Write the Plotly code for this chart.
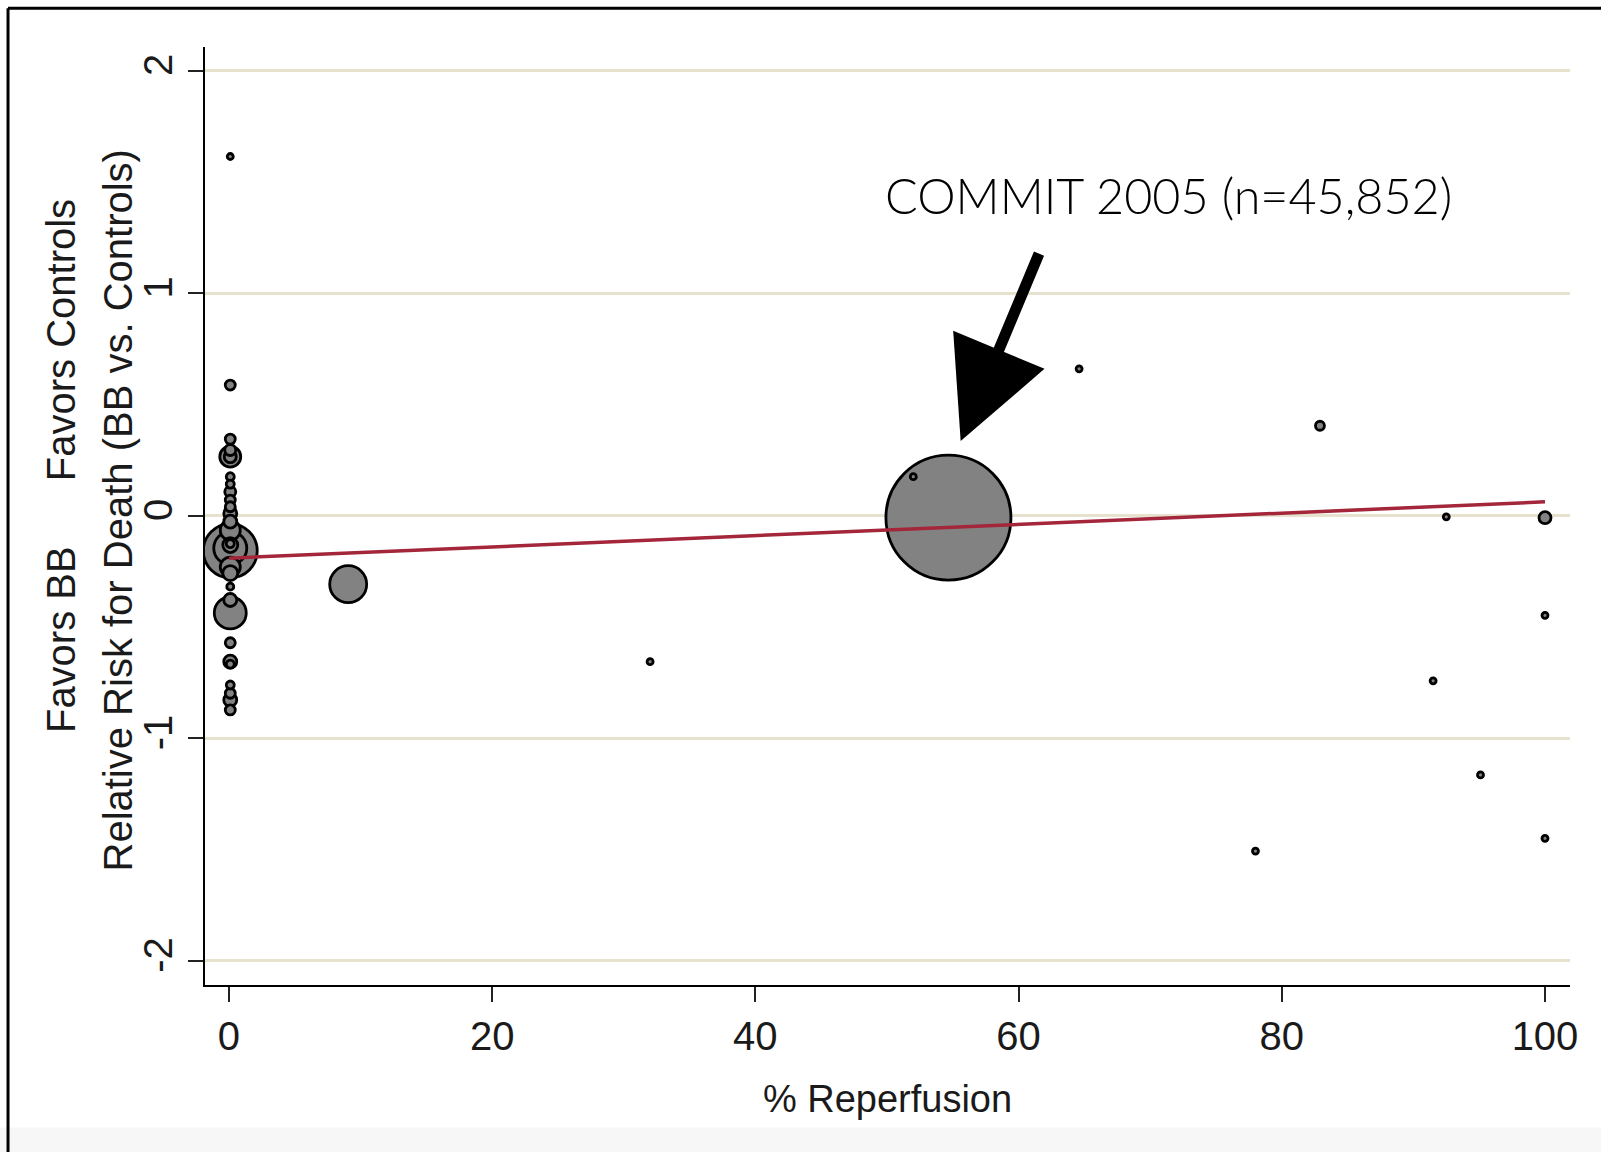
import plotly.graph_objects as go

# ---- data ----
reperfusion = [0.1, 9.06, 32.0, 54.67, 52.0, 64.6, 82.9, 92.5, 100, 100, 91.5, 95.1, 78.0, 100,
               0.1, 0.1, 0.1, 0.1, 0.1, 0.1, 0.1, 0.1, 0.1, 0.1, 0.1, 0.1, 0.1, 0.1, 0.1,
               0.1, 0.1, 0.1, 0.1, 0.1, 0.1, 0.1, 0.1, 0.1, 0.1, 0.1, 0.1, 0.1, 0.1]
log_rr = [1.615, -0.307, -0.655, -0.008, 0.176, 0.661, 0.405, -0.004, -0.008, -0.447, -0.741, -1.164, -1.506, -1.449,
          0.588, 0.345, 0.296, 0.266, 0.266, 0.176, 0.143, 0.108, 0.071, 0.041, 0.011, -0.026, -0.064, -0.157,
          -0.131, -0.125, -0.145, -0.23, -0.257, -0.318, -0.436, -0.378, -0.570, -0.655, -0.666, -0.760, -0.797,
          -0.827, -0.872]
weight_n = [47, 4011, 105, 45852, 105, 59, 237, 47, 422, 89, 89, 59, 59, 89,
            293, 293, 355, 1292, 422, 188, 188, 355, 293, 293, 495, 495, 1172, 8544,
            659, 188, 3191, 1172, 659, 144, 3000, 495, 293, 495, 188, 188, 293,
            495, 293]
fit_x = [0, 100]
fit_y = [-0.19, 0.063]
x_ticks = [0, 20, 40, 60, 80, 100]
y_ticks = [-2, -1, 0, 1, 2]
y_tick_text = ["-2", "-1", "0", "1", "2"]

# draw big bubbles first so small ones sit on top
order = sorted(range(len(weight_n)), key=lambda i: -weight_n[i])
xs = [reperfusion[i] for i in order]
ys = [log_rr[i] for i in order]
ws = [weight_n[i] for i in order]

fig = go.Figure()
fig.add_trace(go.Scatter(
    x=xs, y=ys, mode="markers",
    marker=dict(size=ws, sizemode="area", sizeref=2 * 45852 / 125**2, sizemin=3,
                color="#828282", opacity=1, line=dict(color="black", width=2.8)),
    hoverinfo="skip", showlegend=False))
fig.add_trace(go.Scatter(
    x=fit_x, y=fit_y, mode="lines",
    line=dict(color="#a3263a", width=3.5), showlegend=False, hoverinfo="skip"))

tickfont = dict(family="Liberation Sans, Arial, sans-serif", size=40, color="#1a1a1a")
fig.update_layout(
    width=1601, height=1152,
    margin=dict(l=205, r=31, t=47, b=167),
    paper_bgcolor="white", plot_bgcolor="white",
    xaxis=dict(range=[-1.82, 101.9], tickvals=x_ticks, showgrid=False, zeroline=False,
               showline=True, linecolor="black", linewidth=2, ticks="outside",
               ticklen=15, tickwidth=2, tickcolor="#222", tickfont=tickfont,
               title=dict(text="% Reperfusion", standoff=28,
                          font=dict(family="Liberation Sans, Arial, sans-serif", size=38, color="#1a1a1a"))),
    yaxis=dict(range=[-2.108, 2.107], tickvals=y_ticks, ticktext=y_tick_text, showgrid=True,
               gridcolor="#e6e2cd", gridwidth=3, zeroline=False, showline=True, linecolor="black",
               linewidth=2, ticks="outside", ticklen=15, tickwidth=2, tickcolor="#222",
               tickangle=-90, tickfont=tickfont),
)

ytitle_font = dict(family="Liberation Sans, Arial, sans-serif", size=40, color="#1a1a1a")
fig.add_annotation(text="Relative Risk for Death (BB vs. Controls)", xref="paper", yref="paper",
                   x=-0.0635, y=0.5062, textangle=-90, showarrow=False,
                   xanchor="center", yanchor="middle", font=ytitle_font)
fig.add_annotation(text="Favors BB", xref="paper", yref="paper",
                   x=-0.1055, y=0.3688, textangle=-90, showarrow=False,
                   xanchor="center", yanchor="middle", font=ytitle_font)
fig.add_annotation(text="Favors Controls", xref="paper", yref="paper",
                   x=-0.1055, y=0.6874, textangle=-90, showarrow=False,
                   xanchor="center", yanchor="middle", font=ytitle_font)

# COMMIT label and arrow
fig.add_annotation(text="COMMIT 2005 (n=45,852)", x=71.4, y=1.44, xref="x", yref="y",
                   showarrow=False, font=dict(family="Lato, sans-serif", size=48.5, weight=300, color="black"))
fig.add_annotation(text="", x=55.6, y=0.336, xref="x", yref="y", ax=61.6, ay=1.185,
                   axref="x", ayref="y", showarrow=True, arrowhead=2, arrowsize=1.8,
                   arrowwidth=11, arrowcolor="black", standoff=0)

# outer frame (left and top) and faint bottom band
fig.add_shape(type="rect", xref="paper", yref="paper", x0=-0.2, x1=1.1, y0=-0.2, y1=-0.152,
              fillcolor="#f7f7f7", line=dict(width=0), layer="below")
fig.add_shape(type="line", xref="paper", yref="paper", x0=-0.1443, x1=-0.1443, y0=1.0412, y1=-0.2,
              line=dict(color="black", width=3))
fig.add_shape(type="line", xref="paper", yref="paper", x0=-0.1443, x1=1.1, y0=1.0412, y1=1.0412,
              line=dict(color="black", width=3))

fig.write_html("out.html", config={"displayModeBar": False},
               post_script="document.body.style.margin='0';document.body.style.overflow='hidden';")
